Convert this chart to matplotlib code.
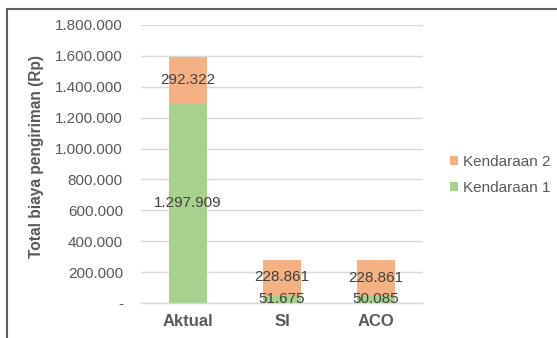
import matplotlib.pyplot as plt
from matplotlib.lines import Line2D
from matplotlib.ticker import FuncFormatter

plt.rcParams['font.family'] = ['Liberation Sans', 'DejaVu Sans']

categories = ["Aktual", "SI", "ACO"]
kendaraan1 = [1297909, 51675, 50085]
kendaraan2 = [292322, 228861, 228861]

green = "#A9D18E"
orange = "#F4B183"
text_gray = "#595959"
label_gray = "#404040"


def fmt(v, pos=None):
    if v == 0:
        return "-"
    return f"{int(round(v)):,}".replace(",", ".")


fig = plt.figure(figsize=(5.57, 3.38), dpi=100)
ax = fig.add_axes([141 / 557, 1 - 303 / 338, 282 / 557, 278 / 338])

x = range(len(categories))
b1 = ax.bar(x, kendaraan1, width=0.4, color=green, label="Kendaraan 1", zorder=2)
b2 = ax.bar(x, kendaraan2, width=0.4, bottom=kendaraan1, color=orange,
            label="Kendaraan 2", zorder=2)

ax.bar_label(b1, labels=[fmt(v) for v in kendaraan1], label_type="center",
             fontsize=11, color=label_gray)
ax.bar_label(b2, labels=[fmt(v) for v in kendaraan2], label_type="center",
             fontsize=11, color=label_gray)

ax.set_xlim(-0.5, 2.5)
ax.set_ylim(0, 1800000)
ax.set_yticks(range(0, 1800001, 200000))
ax.yaxis.set_major_formatter(FuncFormatter(fmt))
ax.set_xticks(list(x))
ax.set_xticklabels(categories, fontweight="bold", fontsize=12, color=text_gray)
ax.tick_params(axis="y", length=0, pad=13, labelsize=11, labelcolor=text_gray)
ax.tick_params(axis="x", length=0, pad=8)
ax.grid(axis="y", color="#D9D9D9", linewidth=1, zorder=0)
for s in ["top", "right", "left"]:
    ax.spines[s].set_visible(False)
ax.spines["bottom"].set_color("#D9D9D9")
ax.spines["bottom"].set_linewidth(1)

fig.text(37 / 557, 1 - 156 / 338, "Total biaya pengiriman (Rp)", rotation=90,
         ha="center", va="center", fontsize=11.2, fontweight="bold", color=text_gray)

ax.legend([b2, b1], ["Kendaraan 2", "Kendaraan 1"], loc="center left",
          bbox_to_anchor=(436 / 557, 1 - 175 / 338), bbox_transform=fig.transFigure,
          frameon=False, handlelength=0.55, handleheight=0.55, handletextpad=0.3,
          labelspacing=0.75, fontsize=11, labelcolor=text_gray)

# chart border (only top and left visible in the crop)
fig.add_artist(Line2D([6.5 / 557, 1.0], [1 - 8.5 / 338, 1 - 8.5 / 338],
                      transform=fig.transFigure, color="#606060", linewidth=1.5))
fig.add_artist(Line2D([6.5 / 557, 6.5 / 557], [0, 1 - 8.5 / 338],
                      transform=fig.transFigure, color="#606060", linewidth=1.5))

fig.savefig("out.png", dpi=100, facecolor="white")
